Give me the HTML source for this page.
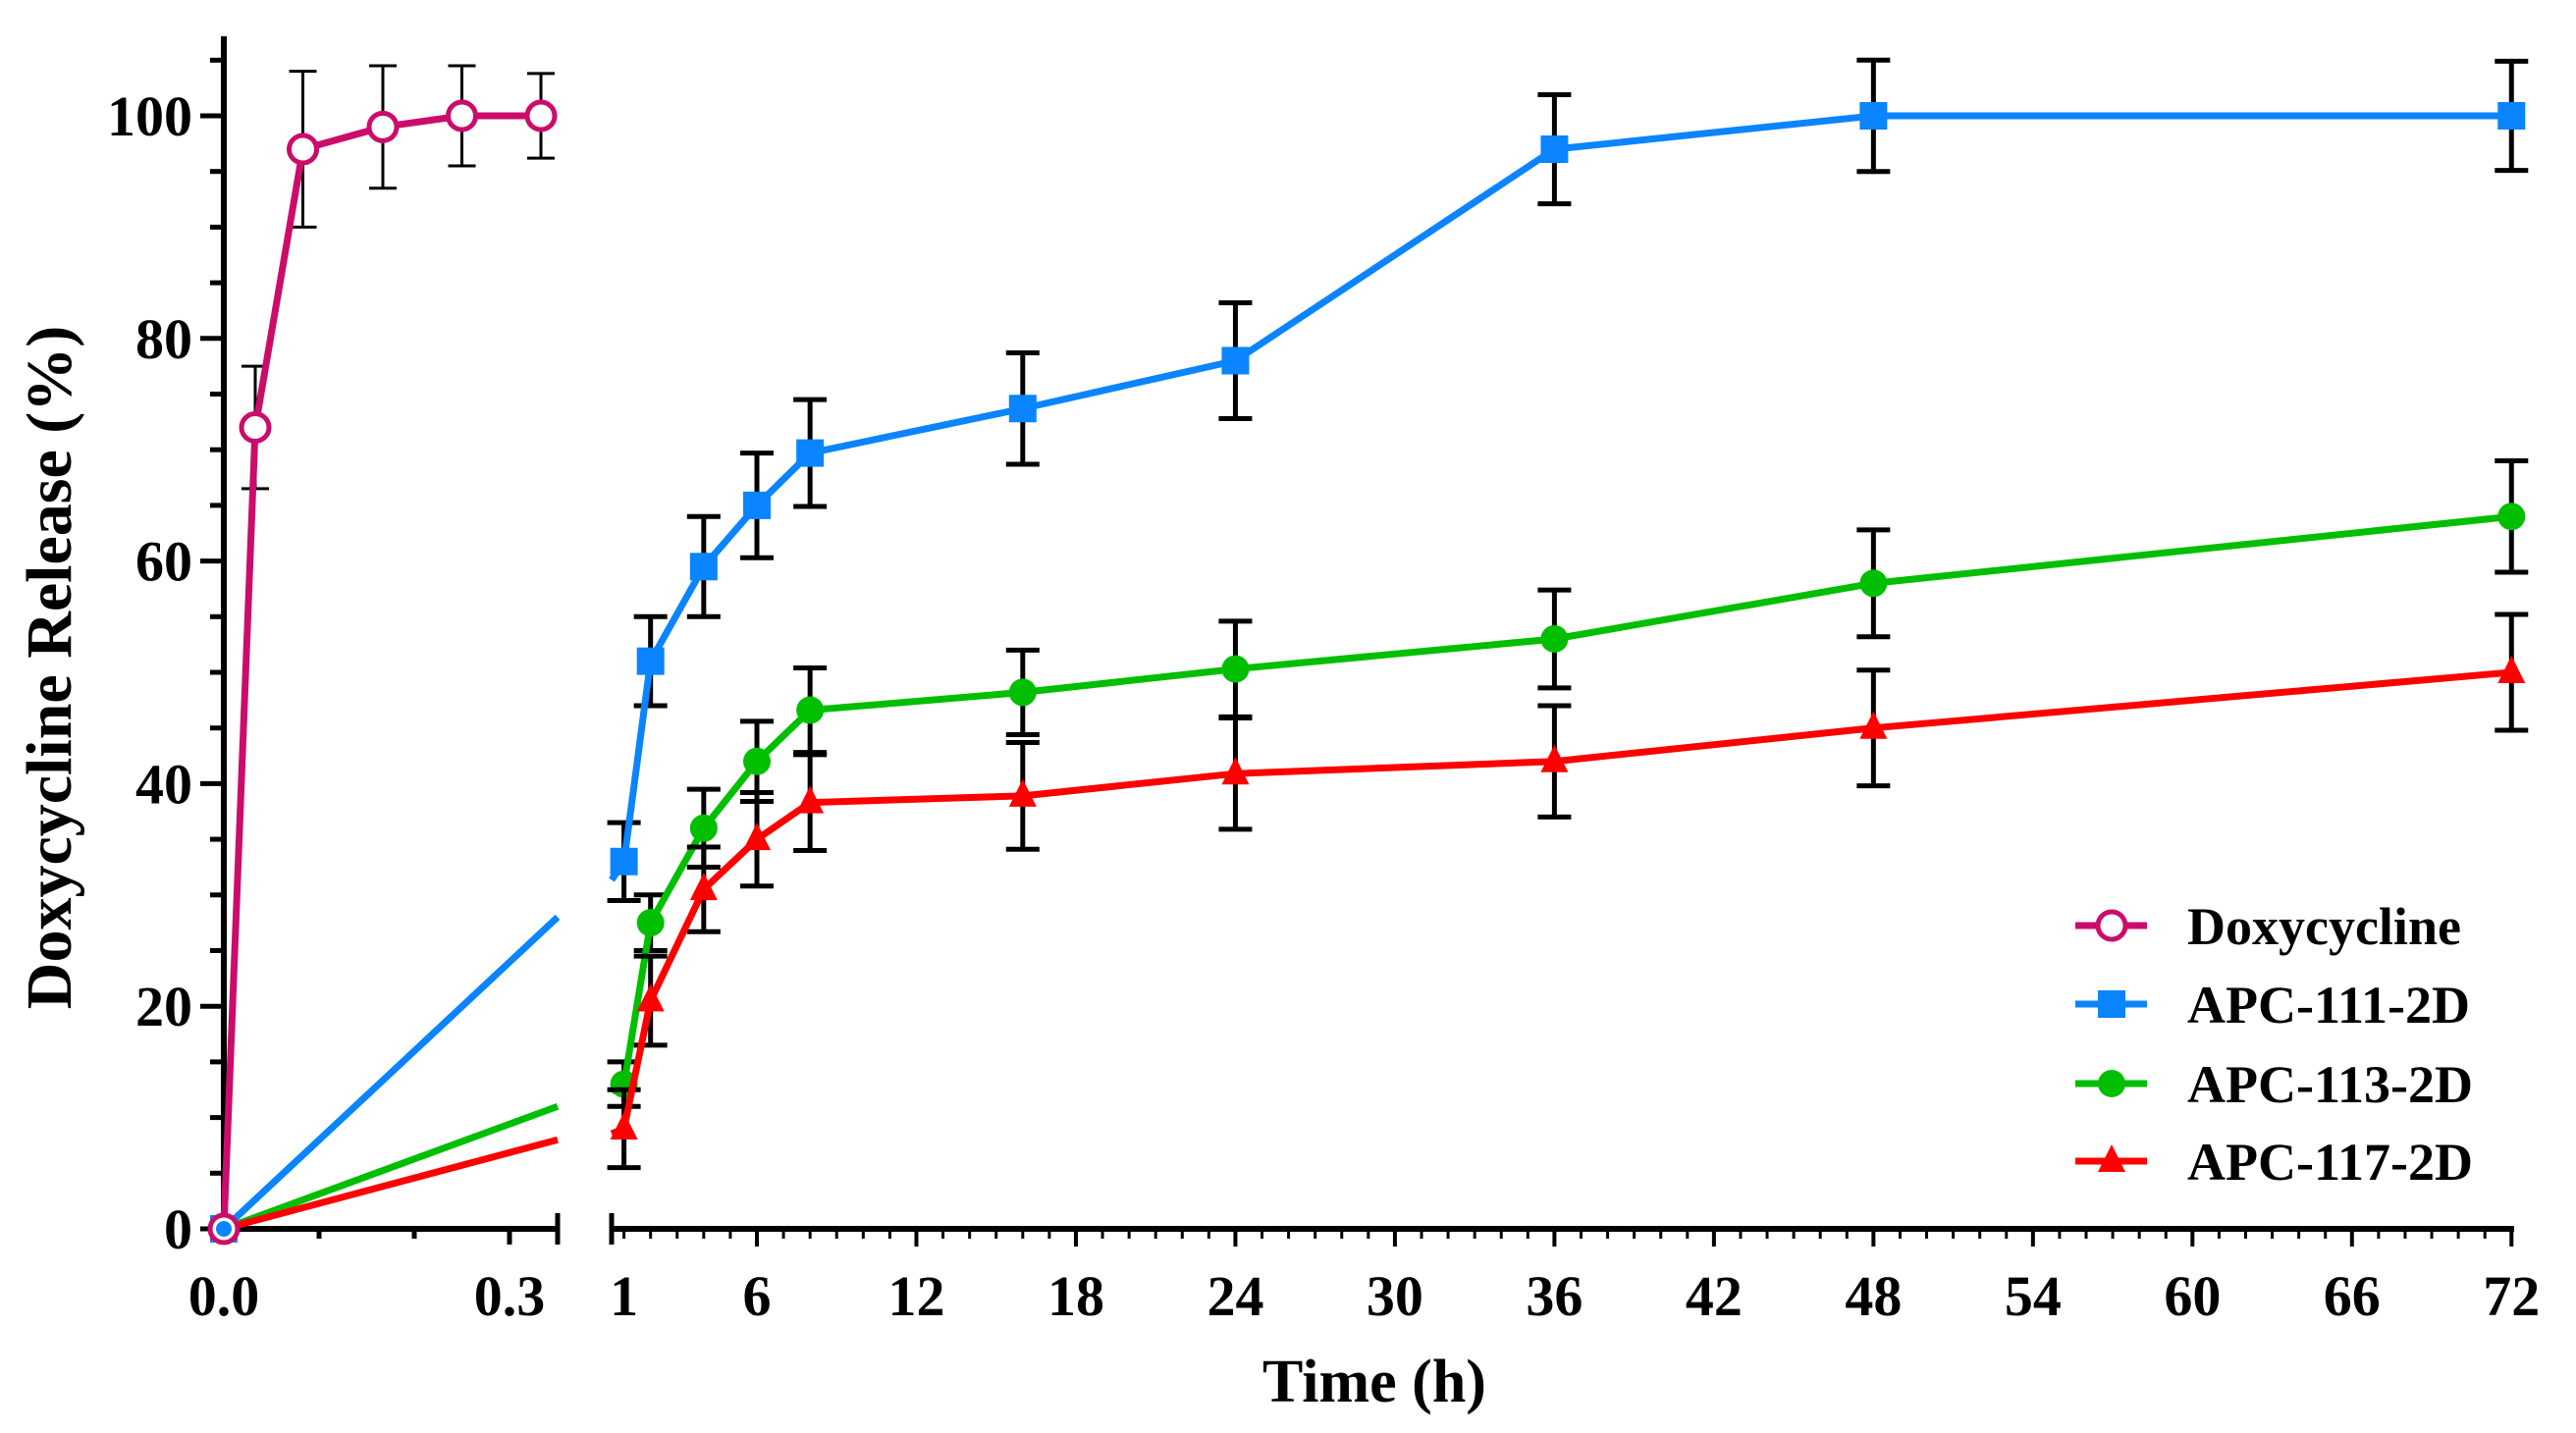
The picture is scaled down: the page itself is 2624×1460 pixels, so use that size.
<!DOCTYPE html>
<html><head><meta charset="utf-8"><style>
html,body{margin:0;padding:0;background:#fff;}
svg{display:block;font-family:"Liberation Serif",serif;font-weight:bold;}
</style></head><body>
<svg id="chart" width="2624" height="1460" viewBox="0 0 2624 1460" xmlns="http://www.w3.org/2000/svg">
<text transform="translate(72,680) rotate(-90)" text-anchor="middle" font-size="66">Doxycycline Release (%)</text>
<text x="1400" y="1428" text-anchor="middle" font-size="62">Time (h)</text>
</svg>
<script>
const doxTimes=[0,0.033,0.083,0.167,0.25,0.333];
const doxVals=[0,72,97,99,100,100];
const doxErr=[0,5.5,7,5.5,4.5,3.8];
const apcTimes=[1,2,4,6,8,16,24,36,48,72];
const apc111=[33,51,59.5,65,69.7,73.7,78,97,100,100];
const apc111Err=[3.5,4,4.5,4.7,4.8,5,5.2,4.9,5,4.9];
const apc113=[13,27.5,36,42,46.6,48.2,50.3,53,58,64];
const apc113Err=[2,2.5,3.5,3.6,3.8,3.8,4.3,4.4,4.8,5];
const apc117=[9,20.5,30.5,35,38.3,38.9,40.9,42,45,50];
const apc117Err=[3.5,4,3.8,4.2,4.3,4.8,5,5,5.2,5.2];
const leftSlopeEnd=[28,11,8];
const yTicks=[0,20,40,60,80,100];
const xTicksRight=[1,6,12,18,24,30,36,42,48,54,60,66,72];
const legendNames=["Doxycycline","APC-111-2D","APC-113-2D","APC-117-2D"];

const svg=document.getElementById('chart');
const NS="http://www.w3.org/2000/svg";
function yS(v){return 1252-v*11.34;}
function xL(t){return 228+t*970;}
function xR(t){return 771+(t-6)*27.08;}
function mk(tag,attrs,parent){const e=document.createElementNS(NS,tag);for(const k in attrs)e.setAttribute(k,attrs[k]);(parent||svg).appendChild(e);return e;}
const C={dox:"#CC0C6A",b:"#0A84FF",g:"#00BE00",r:"#FF0000"};

const ax=mk('g',{});


mk('line',{x1:228,y1:37,x2:228,y2:1255,stroke:'#000','stroke-width':6},ax);
mk('line',{x1:225,y1:1252,x2:570,y2:1252,stroke:'#000','stroke-width':6},ax);
mk('line',{x1:621,y1:1252,x2:2561,y2:1252,stroke:'#000','stroke-width':6},ax);
mk('line',{x1:568,y1:1236,x2:568,y2:1268,stroke:'#000','stroke-width':5},ax);
mk('line',{x1:623,y1:1236,x2:623,y2:1268,stroke:'#000','stroke-width':5},ax);
for(let v=0;v<=105;v+=5){mk('line',{x1:v%20==0?204:214,y1:yS(v),x2:228,y2:yS(v),stroke:'#000','stroke-width':5},ax);}
yTicks.forEach(v=>{const t=mk('text',{x:196,y:yS(v)+20,'text-anchor':'end','font-size':58},ax);t.textContent=v;
});
[0.1,0.2,0.3].forEach(t=>mk('line',{x1:xL(t),y1:1252,x2:xL(t),y2:t==0.3?1268:1262,stroke:'#000','stroke-width':5},ax));
[[0,'0.0'],[0.3,'0.3']].forEach(p=>{const t=mk('text',{x:xL(p[0]),y:1340,'text-anchor':'middle','font-size':58},ax);t.textContent=p[1];
});
for(let h=1;h<=72;h++){const maj=(h%6==0);mk('line',{x1:xR(h),y1:1252,x2:xR(h),y2:maj?1270:1262,stroke:'#000','stroke-width':maj?4:3},ax);}
xTicksRight.forEach(h=>{const t=mk('text',{x:xR(h),y:1340,'text-anchor':'middle','font-size':58},ax);t.textContent=h;
});

function errBar(g,x,v,e,w,cap){mk('line',{x1:x,y1:yS(v+e),x2:x,y2:yS(v-e),stroke:'#000','stroke-width':w},g);
mk('line',{x1:x-cap,y1:yS(v+e),x2:x+cap,y2:yS(v+e),stroke:'#000','stroke-width':w},g);
mk('line',{x1:x-cap,y1:yS(v-e),x2:x+cap,y2:yS(v-e),stroke:'#000','stroke-width':w},g);}
function marker(g,type,x,y,col){
 if(type=='sq')return mk('rect',{x:x-14,y:y-14,width:28,height:28,fill:col},g);
 if(type=='ci')return mk('circle',{cx:x,cy:y,r:14,fill:col},g);
 if(type=='tr')return mk('polygon',{points:`${x},${y-17} ${x+14},${y+11} ${x-14},${y+11}`,fill:col},g);
 return mk('circle',{cx:x,cy:y,r:14,fill:'#fff',stroke:col,'stroke-width':5},g);}

const series=[[apc111,apc111Err,C.b,'sq','series-apc-111-2d'],[apc113,apc113Err,C.g,'ci','series-apc-113-2d'],[apc117,apc117Err,C.r,'tr','series-apc-117-2d']];
series.forEach((s,i)=>{const l=mk('line',{x1:xL(0),y1:yS(0),x2:568,y2:yS(leftSlopeEnd[i]),stroke:s[2],'stroke-width':7});
});
series.forEach(s=>{
 const g=mk('g',{});
 
 
 s[0].forEach((v,i)=>errBar(g,xR(apcTimes[i]),v,s[1][i],5,17));
 let d=`M623,${yS(s[0][0]*0.95)}`;
 s[0].forEach((v,i)=>d+=` L${xR(apcTimes[i])},${yS(v)}`);
 mk('path',{d:d,fill:'none',stroke:s[2],'stroke-width':7},g);
 s[0].forEach((v,i)=>{const m=marker(g,s[3],xR(apcTimes[i]),yS(v),s[2]);
 });
 marker(g,s[3],xL(0),yS(0),s[2]);
});
const dg=mk('g',{});


doxVals.forEach((v,i)=>{if(doxErr[i])errBar(dg,xL(doxTimes[i]),v,doxErr[i],3,14);});
mk('path',{d:doxVals.map((v,i)=>(i?'L':'M')+xL(doxTimes[i])+','+yS(v)).join(' '),fill:'none',stroke:C.dox,'stroke-width':7},dg);
doxVals.forEach((v,i)=>{const m=marker(dg,'open',xL(doxTimes[i]),yS(v),C.dox);
});
marker(dg,'ci',xL(0),yS(0),C.b).setAttribute('r',8);

const lg=mk('g',{});


const lc=[C.dox,C.b,C.g,C.r],lt=['open','sq','ci','tr'],ly=[943,1023,1104,1183];
legendNames.forEach((n,i)=>{const e=mk('g',{},lg);
 
 
 mk('line',{x1:2114,y1:ly[i],x2:2187,y2:ly[i],stroke:lc[i],'stroke-width':7},e);
 marker(e,lt[i],2151,ly[i],lc[i]);
 const t=mk('text',{x:2228,y:ly[i]+19,'font-size':54},e);t.textContent=n;});
</script>
</body></html>
